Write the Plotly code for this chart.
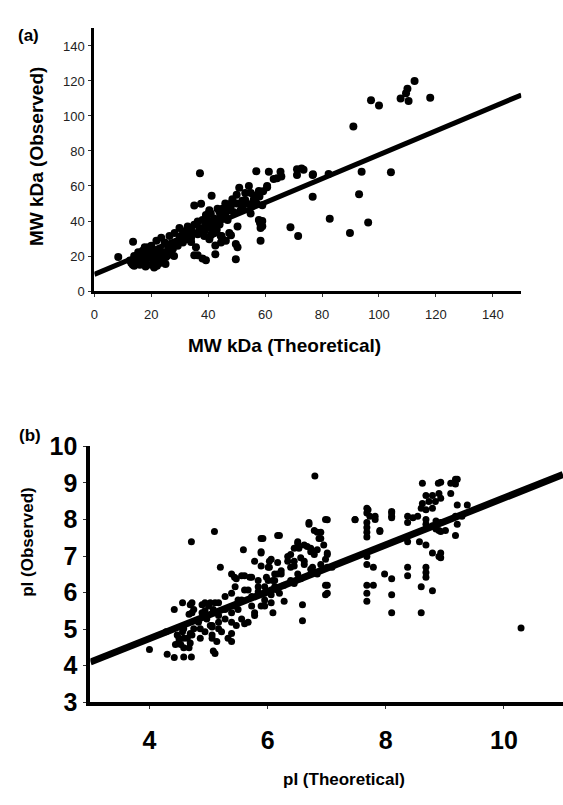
import plotly.graph_objects as go

# ---------------- Panel (a): molecular weight ----------------
mw_points = [
    (112.5, 120), (110, 115.6), (109.5, 113), (107.6, 110), (110.4, 108.6), (118, 110.4),
    (97.2, 109), (100, 106), (91, 94),
    (93.9, 68.2), (104.2, 67.8), (93, 55.3), (76.7, 53.8), (82.7, 41.3), (96.2, 39.1),
    (89.8, 33.2), (68.9, 36.5), (71.6, 31.4),
    (76.7, 66.3), (82.3, 66.9), (71.2, 69.6), (72.8, 70), (71.2, 66.3), (65.4, 68.2),
    (65.7, 65.4), (61.3, 68.2), (63, 64), (60.7, 60), (59.3, 57), (59, 40), (59, 37), (58.4, 28.7),
    (56.9, 68.5), (64.2, 64.5), (73.5, 69.3), (76.8, 66.7), (58.2, 38.8), (58.4, 36),
    (50.3, 36.9), (48, 31.8), (49.7, 26.8), (49.7, 18.2), (44.5, 27.7), (44.7, 31.4),
    (50.9, 59), (54.3, 60), (57.8, 57.2), (60.7, 59.3), (48.5, 52.5), (52, 51.6), (53.7, 49.8),
    (56.1, 54.4), (45, 47), (47.9, 48), (51.4, 46.2), (54.9, 44.3), (44.4, 42.4), (46.8, 40.6),
    (37.1, 67.3), (41.2, 54.4), (35.1, 48.9), (37.5, 49.8), (43.3, 47), (40.4, 46.1),
    (13.6, 28.1), (8.4, 19.5), (35.7, 25), (36.3, 20.4), (38, 18.6), (44.4, 31.4), (46.2, 28.7),
    (42.5, 26), (42.5, 21),
    (15.4, 22.2), (17.7, 25), (20, 25.9), (21.8, 28.7), (23.5, 30.5), (24.7, 27.7), (26.4, 31.4),
    (28.2, 33.2), (29.9, 36), (31.1, 34.2), (32.8, 36.9), (34, 35.1), (35.1, 37.9), (36.3, 39.7),
    (38, 40.6), (39.2, 43.4), (40.9, 44.3), (42.1, 41.5), (43.3, 40.6), (17.7, 19.5), (20, 20.4),
    (22.3, 21.3), (24.7, 22.2), (25.8, 20.4), (27.6, 24.1), (29.3, 25.9), (31.1, 27.7),
    (32.2, 29.6), (34, 30.5), (36.3, 32.4), (38.6, 34.2), (40.4, 36), (42.1, 36.9),
    (25.2, 19.5), (35.1, 20.4), (39.2, 17.6), (50.3, 25), (45, 29.6), (47.4, 33.2), (40.4, 45.2),
    (39.8, 40.6), (38.6, 31.4), (40.4, 29.6), (57.8, 40.6),
    (13, 16), (14, 14.5), (15, 17), (16, 15), (17, 18), (18, 14), (18, 16.5), (19, 19), (20, 15),
    (21, 17), (22, 14.5), (22, 19), (23, 16), (24, 18), (25, 15.5), (26, 21), (14, 20), (16, 21),
    (20, 22.5), (12.5, 17.5), (17, 23), (27, 22), (28, 20), (23, 24), (19, 25), (13.5, 15),
    (15.5, 19), (21, 13.5), (24, 20.5), (29, 27), (30, 31), (27, 27), (26, 25), (31, 30), (33, 33),
    (34, 28), (37, 36), (39, 38), (41, 39), (44, 45), (46, 44), (47, 46), (49, 45), (50, 50),
    (52, 48), (53, 52), (55, 49), (56, 52), (57, 50), (59, 49), (58, 54), (55, 56), (53, 56),
    (50, 55), (48, 50), (46, 50), (44, 38), (43, 35), (42, 33), (41, 32),
]
mw_theoretical = [p[0] for p in mw_points]
mw_observed = [p[1] for p in mw_points]
mw_fit_x = [0, 150]
mw_fit_y = [9.5, 112]
mw_ticks = [0, 20, 40, 60, 80, 100, 120, 140]

# ---------------- Panel (b): isoelectric point ----------------
pi_points = [
    (6.80, 9.19), (10.29, 5.03),
    (8.62, 8.99), (8.89, 8.99), (9.10, 8.99), (9.18, 9.10), (9.21, 9.10), (9.18, 8.97), (8.93, 9.02),
    (8.68, 8.66), (8.79, 8.66), (8.90, 8.71), (9.10, 8.71), (8.93, 8.58),
    (8.62, 8.44), (8.73, 8.49), (8.84, 8.49), (9.21, 8.40), (9.38, 8.40),
    (8.60, 8.31), (8.68, 8.27), (8.79, 8.31),
    (7.68, 8.31), (7.68, 8.18), (7.82, 8.09), (8.10, 8.18), (8.10, 8.09),
    (8.37, 8.09), (8.37, 7.92), (8.46, 8.05), (8.54, 8.09), (8.68, 8.0), (8.85, 7.96), (8.93, 7.92),
    (9.18, 8.09), (9.21, 7.87), (9.29, 8.09),
    (7.68, 7.92), (7.68, 7.78), (7.68, 7.65), (7.68, 7.52), (7.90, 7.70),
    (7.48, 7.99), (7.01, 7.99), (6.70, 7.92), (6.79, 7.70), (6.90, 7.65), (6.87, 7.48),
    (6.20, 7.56), (5.92, 7.48),
    (9.18, 7.56), (9.01, 7.70), (8.90, 7.70), (8.85, 7.74), (8.68, 7.87), (8.79, 7.83),
    (8.93, 7.67), (8.93, 7.08), (8.93, 6.95),
    (8.37, 7.39), (8.57, 7.39), (8.68, 7.30), (8.79, 7.08), (8.90, 6.99),
    (7.68, 6.99), (7.68, 6.77), (7.79, 6.69), (7.98, 6.51), (8.10, 6.38),
    (8.37, 6.69), (8.37, 6.46), (8.68, 6.69), (8.68, 6.55), (8.68, 6.42),
    (7.68, 6.20), (7.79, 6.20), (7.68, 5.98), (7.68, 5.76),
    (8.10, 5.94), (8.60, 6.16), (8.79, 6.05), (8.10, 5.45), (8.60, 5.45),
    (7.01, 6.20), (7.01, 5.98), (7.09, 6.69), (6.90, 6.77),
    (6.59, 5.67), (6.59, 5.23), (6.09, 5.45), (6.28, 5.76),
    (4.71, 7.39), (5.10, 7.67), (4.42, 5.54), (4.00, 4.44), (4.30, 4.31), (4.42, 4.22),
    (4.58, 4.24), (4.71, 4.24), (5.11, 4.33),
    (5.20, 6.69), (5.39, 6.51), (5.44, 6.42), (5.56, 6.46), (5.59, 7.17), (5.70, 6.42),
    (5.89, 7.48), (5.89, 7.12), (6.03, 6.69), (6.17, 6.51), (6.17, 7.56),
    (4.47, 4.84), (4.50, 4.66), (4.53, 4.58), (4.56, 4.93), (4.64, 4.75), (4.67, 4.49),
    (4.72, 4.84), (4.75, 5.01), (4.83, 5.19), (4.89, 5.45), (4.94, 4.93), (4.97, 5.28),
    (5.00, 5.63), (5.03, 5.10), (5.06, 4.75), (5.11, 5.45), (5.17, 5.19), (5.22, 4.93),
    (5.28, 5.28), (5.33, 4.75), (5.39, 4.66), (5.44, 5.63), (5.47, 5.10),
    (4.28, 4.93), (4.56, 5.72), (4.72, 5.72), (4.72, 5.45), (4.94, 5.72), (4.94, 5.50), (5.11, 5.72),
    (5.39, 5.45), (5.45, 6.16), (5.56, 5.80), (5.67, 6.07), (5.73, 5.63), (5.84, 6.16),
    (5.95, 5.98), (6.01, 6.33), (6.12, 6.16),
    (5.56, 5.28), (5.67, 5.19), (5.78, 5.45), (5.89, 5.63), (6.06, 5.72), (6.20, 5.98),
    (6.70, 7.87), (6.84, 7.65), (6.90, 7.48), (5.89, 7.08),
    (6.51, 7.34), (6.53, 7.21), (6.67, 7.26), (6.73, 7.12), (6.84, 7.17), (6.95, 7.30), (7.01, 7.08),
    (5.78, 6.86), (5.89, 6.73), (6.06, 6.91), (6.17, 6.82), (6.34, 6.99), (6.45, 6.86),
    (6.39, 6.69), (6.56, 6.95), (6.62, 6.77), (6.73, 6.64), (6.98, 6.91),
    (5.47, 6.38), (5.61, 6.46), (5.73, 6.42), (5.84, 6.33), (5.98, 6.42), (6.09, 6.33),
    (6.23, 6.51), (6.28, 6.20), (6.45, 6.25), (6.56, 6.38),
    (6.98, 6.20), (6.98, 5.94),
    (5.78, 5.37), (5.61, 5.15), (5.39, 5.19), (5.39, 4.88), (5.06, 5.06),
    (5.17, 5.72), (5.28, 5.89), (5.39, 5.98), (5.50, 5.80), (5.61, 6.07), (5.73, 5.89),
    (5.84, 6.02), (5.95, 5.80), (6.06, 5.94), (6.17, 6.07), (5.28, 5.54), (5.50, 5.54),
    (5.17, 5.37), (5.95, 5.63),
    (4.69, 5.67), (4.75, 5.54), (4.89, 5.67), (5.03, 5.72), (5.08, 5.54), (4.67, 5.41),
    (5.08, 4.40),
    (4.58, 5.01), (4.58, 4.75), (4.58, 4.49), (4.69, 4.88), (4.69, 4.62), (4.86, 5.01),
    (4.86, 4.75), (5.06, 5.10), (5.06, 4.84), (5.14, 4.66), (5.17, 5.01), (4.50, 4.75), (4.44, 4.58),
    (6.98, 8.0), (7.48, 8.0), (7.70, 8.27), (7.73, 8.09), (7.82, 8.0), (8.10, 8.22), (8.10, 8.05),
    (7.90, 7.67),
    (6.03, 6.86), (6.01, 6.69), (6.12, 6.51), (6.12, 6.33), (5.95, 6.16), (6.06, 6.07),
    (6.23, 6.60), (6.34, 6.86), (6.39, 7.04), (6.45, 7.21), (6.51, 7.39), (6.62, 7.30),
    (6.73, 7.21), (6.79, 7.04), (6.45, 6.73), (6.51, 6.51), (6.39, 6.33), (6.62, 6.86),
    (6.76, 6.69), (6.84, 6.51), (7.01, 7.04), (7.01, 6.69),
]
pi_theoretical = [p[0] for p in pi_points]
pi_observed = [p[1] for p in pi_points]
pi_fit_x = [3, 11]
pi_fit_y = [4.1, 9.23]
pi_x_ticks = [4, 6, 8, 10]
pi_y_ticks = [3, 4, 5, 6, 7, 8, 9, 10]

FONT = "Liberation Sans, Arial, Helvetica, sans-serif"
W, H = 563, 805

fig = go.Figure()
fig.add_trace(go.Scatter(x=mw_theoretical, y=mw_observed, mode="markers",
                         marker=dict(color="black", size=8, line=dict(width=0)),
                         xaxis="x", yaxis="y", showlegend=False))
fig.add_trace(go.Scatter(x=mw_fit_x, y=mw_fit_y, mode="lines",
                         line=dict(color="black", width=5),
                         xaxis="x", yaxis="y", showlegend=False))
fig.add_trace(go.Scatter(x=pi_theoretical, y=pi_observed, mode="markers",
                         marker=dict(color="black", size=7, line=dict(width=0)),
                         xaxis="x2", yaxis="y2", showlegend=False))
fig.add_trace(go.Scatter(x=pi_fit_x, y=pi_fit_y, mode="lines",
                         line=dict(color="black", width=7),
                         xaxis="x2", yaxis="y2", showlegend=False))

small_tick = dict(family=FONT, size=13, color="#222")
big_tick = dict(family=FONT, size=25, color="black", weight="bold")

common = dict(showgrid=False, zeroline=False, showline=True, linecolor="black",
              ticks="outside", tickcolor="#333", tickwidth=1, fixedrange=True)

fig.update_layout(
    width=W, height=H, autosize=False,
    margin=dict(l=0, r=0, t=0, b=0),
    paper_bgcolor="white", plot_bgcolor="white",
    hovermode=False,
    xaxis=dict(domain=[91 / W, 521 / W], anchor="y", range=[0, 150],
               tickvals=mw_ticks, tickfont=small_tick, linewidth=3, ticklen=3,
               ticklabelstandoff=6, **common),
    yaxis=dict(domain=[1 - 287 / H, 1 - 15 / H], anchor="x", range=[0, 150],
               tickvals=mw_ticks, tickfont=small_tick, linewidth=3, ticklen=3,
               ticklabelstandoff=1, **common),
    xaxis2=dict(domain=[87 / W, 1.0], anchor="y2", range=[3, 11],
                tickvals=pi_x_ticks, tickfont=big_tick, linewidth=4, ticklen=3,
                ticklabelstandoff=10, **common),
    yaxis2=dict(domain=[1 - 713 / H, 1 - 448 / H], anchor="x2", range=[3, 10],
                tickvals=pi_y_ticks, tickfont=big_tick, linewidth=4, ticklen=3,
                ticklabelstandoff=1, **common),
)

ann = [
    dict(text="(a)", x=12 / W, y=1 - 22 / H, xanchor="left", size=17),
    dict(text="(b)", x=13 / W, y=1 - 437 / H, xanchor="left", size=17),
    dict(text="MW kDa (Theoretical)", x=283 / W, y=1 - 343 / H, xanchor="center", size=19),
    dict(text="MW kDa (Observed)", x=33.5 / W, y=1 - 148 / H, xanchor="center", size=19, angle=-90),
    dict(text="pI (Observed)", x=24 / W, y=1 - 547 / H, xanchor="center", size=17, angle=-90),
    dict(text="pI (Theoretical)", x=342 / W, y=1 - 793 / H, xanchor="center", size=17),
]
for a in ann:
    fig.add_annotation(text=a["text"], x=a["x"], y=a["y"], xref="paper", yref="paper",
                       xanchor=a["xanchor"], yanchor="middle", showarrow=False,
                       textangle=a.get("angle", 0),
                       font=dict(family=FONT, size=a["size"], color="black", weight="bold"))

fig.write_html("out.html",
               config={"displayModeBar": False, "staticPlot": True},
               post_script="document.body.style.margin='0';document.body.style.overflow='hidden';")
